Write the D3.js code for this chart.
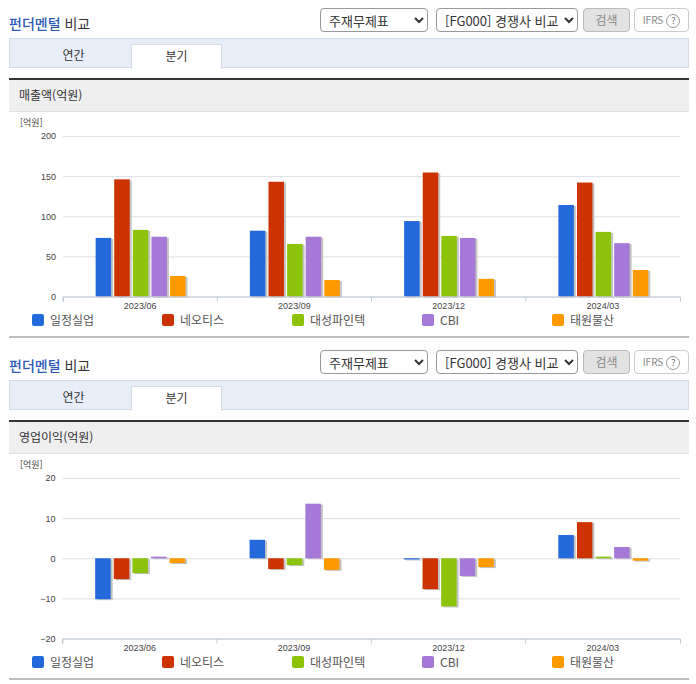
<!DOCTYPE html>
<html lang="ko">
<head>
<meta charset="utf-8">
<script src="https://cdnjs.cloudflare.com/ajax/libs/d3/7.8.5/d3.min.js"></script>
<style>
html, body { margin: 0; padding: 0; background: #fff; overflow: hidden; }
body { width: 696px; height: 684px; position: relative; font-family: "Noto Sans CJK KR", "Noto Sans", sans-serif; color: #333; }
.panel { position: absolute; left: 0; width: 696px; height: 342px; }
.title { position: absolute; left: 9px; top: 14px; font-size: 14px; line-height: 18px; font-weight: 400; color: #333; }
.title b { color: #2f5bb5; font-weight: 500; }
select { position: absolute; top: 8px; height: 24px; font: 13px "Noto Sans CJK KR", sans-serif; background: #fff; border: 1px solid #999; border-radius: 4px; color: #333; padding: 0 0 0 4px; }
.sel1 { left: 320px; width: 108px; }
.sel2 { left: 436px; width: 142px; }
.btn { position: absolute; left: 583px; top: 8px; width: 45px; height: 22px; line-height: 21px; border: 1px solid #bbb; border-radius: 4px; background: #e2e2e2; color: #888; font-size: 12px; text-align: center; }
.ifrs { position: absolute; left: 634px; top: 8px; width: 53px; height: 22px; line-height: 21px; border: 1px solid #ccc; border-radius: 4px; color: #888; font-size: 10px; text-align: center; }
.ifrs span { display: inline-block; width: 12px; height: 12px; line-height: 12px; margin-left: 3px; border: 1px solid #999; border-radius: 50%; font-size: 9px; color: #777; }
.tabbar { position: absolute; left: 9px; top: 38px; width: 678px; height: 28px; background: #e7eef8; border: 1px solid #d5dce6; }
.tab { position: absolute; top: 5px; height: 24px; line-height: 22px; width: 89px; text-align: center; font-size: 12px; color: #333; }
.tab.on { left: 121px; background: #fff; border: 1px solid #d5dce6; border-bottom: 0; }
.tab.off { left: 19px; }
.head { position: absolute; left: 9px; top: 78px; width: 680px; height: 31px; line-height: 30px; background: #efefef; border-top: 2px solid #333; border-bottom: 1px solid #e0e0e0; font-size: 12px; text-indent: 10px; }
.foot { position: absolute; left: 9px; top: 336px; width: 680px; height: 2px; background: #bbb; }
svg { position: absolute; left: 0; top: 0; }
</style>
</head>
<body>
<script>
var periods = ["2023/06", "2023/09", "2023/12", "2024/03"];
var companies = ["일정실업", "네오티스", "대성파인텍", "CBI", "태원물산"];
var colors = ["#2469dc", "#cc3300", "#8cc40c", "#a678d8", "#ff9900"];

// rows = period, columns = company
var sales = [
    [73, 146, 83, 74.5, 25.5],
    [82, 143, 65.5, 74.5, 20.5],
    [94, 154.5, 75.5, 73, 22],
    [114, 142, 80.5, 66.5, 33]
];
var profit = [
    [-10.2, -5.2, -3.7, 0.4, -1.2],
    [4.6, -2.7, -1.7, 13.6, -2.9],
    [-0.3, -7.7, -12, -4.4, -2.2],
    [5.8, 9, 0.4, 2.8, -0.6]
];
var salesTicks = [0, 50, 100, 150, 200];
var profitTicks = [-20, -10, 0, 10, 20];
var legendX = [32, 162, 292, 422, 552];

function drawPanel(top, chartTitle, values, ticks, idx) {
    var panel = d3.select("body").append("div")
        .attr("class", "panel")
        .style("top", top + "px");

    var title = panel.append("div").attr("class", "title");
    title.append("b").text("펀더멘털");
    title.append("span").text(" 비교");

    panel.append("select").attr("class", "sel1").append("option").text("주재무제표");
    panel.append("select").attr("class", "sel2").append("option").text("[FG000] 경쟁사 비교");
    panel.append("div").attr("class", "btn").text("검색");
    var ifrs = panel.append("div").attr("class", "ifrs").text("IFRS");
    ifrs.append("span").text("?");

    var tabbar = panel.append("div").attr("class", "tabbar");
    tabbar.append("div").attr("class", "tab off").text("연간");
    tabbar.append("div").attr("class", "tab on").text("분기");

    panel.append("div").attr("class", "head").text(chartTitle);
    panel.append("div").attr("class", "foot");

    var svg = panel.append("svg").attr("width", 696).attr("height", 342);

    var blur = svg.append("defs").append("filter").attr("id", "soft" + idx);
    blur.append("feGaussianBlur").attr("stdDeviation", 0.6);

    var left = 63 - idx * 0.5;
    var x0 = d3.scaleBand().domain(periods).range([left, 680]);
    var x1 = d3.scaleBand().domain(companies).range([0, 93]);
    var y = d3.scaleLinear().domain([ticks[0], ticks[ticks.length - 1]]).range([296.5, 136]);

    svg.append("text")
        .attr("x", 20).attr("y", 126)
        .attr("font-size", 9).attr("fill", "#444")
        .text("[억원]");

    // gridlines + value labels
    var yAxis = svg.append("g")
        .attr("transform", "translate(" + left + ",0)")
        .call(d3.axisLeft(y).tickValues(ticks).tickSize(-(680 - left)).tickPadding(7));
    yAxis.select(".domain").remove();
    yAxis.selectAll("line").attr("stroke", "#dcdfe4");
    yAxis.selectAll("text").attr("font-size", 9).attr("fill", "#444")
        .attr("font-family", "'Liberation Sans', sans-serif");

    var groups = svg.selectAll("g.period")
        .data(values)
        .enter().append("g")
        .attr("class", "period")
        .attr("transform", function(d, i) { return "translate(" + (x0(periods[i]) + (x0.bandwidth() - 93) / 2 + 2) + ",0)"; });

    // grey drop shadow behind each bar
    groups.selectAll("rect.shadow")
        .data(function(d) { return d; })
        .enter().append("rect")
        .attr("class", "shadow")
        .attr("x", function(d, i) { return x1(companies[i]) + 2; })
        .attr("y", function(d) { return Math.min(y(d), y(0)) + 1; })
        .attr("width", 15.5)
        .attr("height", function(d) { return Math.abs(y(d) - y(0)); })
        .attr("fill", "#c4c4c4")
        .attr("filter", "url(#soft" + idx + ")");

    groups.selectAll("rect.bar")
        .data(function(d) { return d; })
        .enter().append("rect")
        .attr("class", "bar")
        .attr("x", function(d, i) { return x1(companies[i]); })
        .attr("y", function(d) { return Math.min(y(d), y(0)); })
        .attr("width", 15.5)
        .attr("height", function(d) { return Math.abs(y(d) - y(0)); })
        .attr("fill", function(d, i) { return colors[i]; });

    var xAxis = svg.append("g")
        .attr("transform", "translate(0,296.5)")
        .call(d3.axisBottom(x0).tickSizeOuter(5).tickSize(5).tickPadding(1));
    xAxis.select(".domain").attr("stroke", "#c2cad8");
    xAxis.selectAll("line").attr("stroke", "#c2cad8")
        .attr("transform", function() { return "translate(" + (-x0.bandwidth() / 2) + ",0)"; });
    xAxis.selectAll("text").attr("font-size", 9).attr("fill", "#444")
        .attr("font-family", "'Liberation Sans', sans-serif");

    // legend
    var legend = svg.selectAll("g.legend")
        .data(companies)
        .enter().append("g")
        .attr("class", "legend")
        .attr("transform", function(d, i) { return "translate(" + legendX[i] + ",314)"; });
    legend.append("rect")
        .attr("width", 12).attr("height", 12).attr("rx", 2)
        .attr("fill", function(d, i) { return colors[i]; });
    legend.append("text")
        .attr("x", 18).attr("y", 11)
        .attr("font-size", 12).attr("fill", "#555")
        .text(function(d) { return d; });
}

drawPanel(0, "매출액(억원)", sales, salesTicks, 0);
drawPanel(342, "영업이익(억원)", profit, profitTicks, 1);
</script>
</body>
</html>
